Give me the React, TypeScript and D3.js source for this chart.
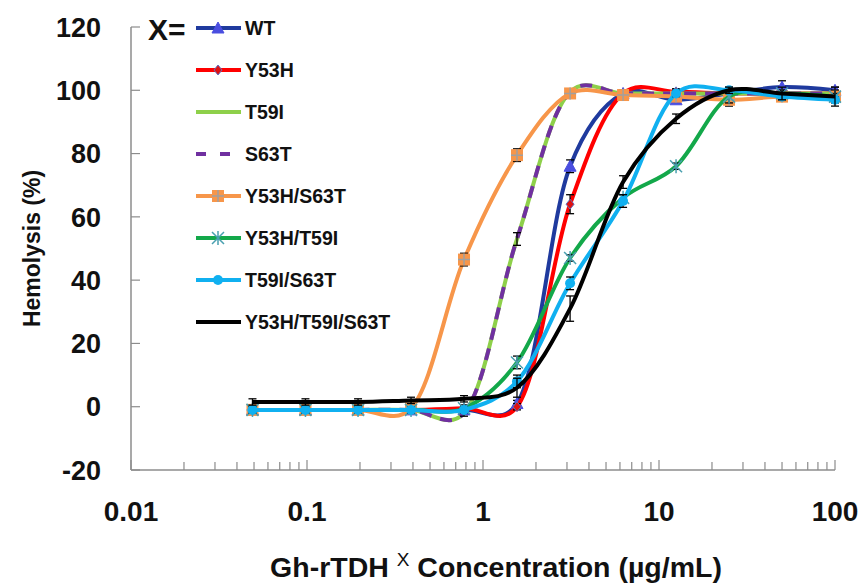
import React from "react";
import * as d3 from "d3";

const conc = [0.049, 0.098, 0.195, 0.39, 0.78, 1.56, 3.125, 6.25, 12.5, 25, 50, 100];
const seriesNames = ["WT", "Y53H", "T59I", "S63T", "Y53H/S63T", "Y53H/T59I", "T59I/S63T", "Y53H/T59I/S63T"];
const wt = [-1, -1, -1, -1, -1, 1, 76, 99, 97, 99, 101, 100];
const y53h = [-1, -1, -1, -1, -0.5, 0, 64, 99, 99.5, 99, 99, 99];
const t59i = [-1, -1, -1, -1, -2, 53, 99.5, 99, 99, 99, 99, 99];
const s63t = [-1, -1, -1, -1, -2, 53, 99.5, 99, 99, 99, 99, 99];
const y53hS63t = [-1, -1, -1, -0.5, 46.5, 79.5, 99, 98.5, 98, 97, 98, 98];
const y53hT59i = [-1, -1, -1, -1, -0.5, 14, 47, 66, 76, 98, 99, 98];
const t59iS63t = [-1, -1, -1, -1, -1, 8, 39, 65, 99, 100, 98, 97];
const triple = [1.5, 1.5, 1.5, 2, 2.5, 6, 31, 71, 91, 100, 99, 98];
const wtErr = [1, 1, 1, 1, 1, 1, 2, 1, 1, 1, 2, 1];
const y53hErr = [1, 1, 1, 1, 1, 1, 3, 1, 1, 1, 1, 1];
const t59iErr = [0, 0, 0, 0, 0, 0, 0, 0, 0, 0, 0, 0];
const s63tErr = [1, 1, 1, 1, 1, 2, 1, 1, 1, 1, 1, 1];
const y53hS63tErr = [1, 1, 1, 1, 2, 2, 1, 1, 1, 2, 1, 1];
const y53hT59iErr = [1, 1, 1, 1, 1, 2, 1, 1, 1, 2, 1, 1];
const t59iS63tErr = [1, 1, 1, 1, 1, 2, 2, 2, 1, 1, 1, 1];
const tripleErr = [1, 1, 1, 1, 1, 3, 4, 2, 1.5, 1, 2, 3];
const yTicks = [-20, 0, 20, 40, 60, 80, 100, 120];
const xTicks = [0.01, 0.1, 1, 10, 100];
const xTickLabels = ["0.01", "0.1", "1", "10", "100"];

const colors = ["#1f3a9e", "#ff0000", "#8ed04a", "#7030a0", "#f7964a", "#13a84a", "#10b0f0", "#000000"];
const values = [wt, y53h, t59i, s63t, y53hS63t, y53hT59i, t59iS63t, triple];
const errs = [wtErr, y53hErr, t59iErr, s63tErr, y53hS63tErr, y53hT59iErr, t59iS63tErr, tripleErr];
const markers = ["triangle", "diamond", "none", "none", "square", "asterisk", "circle", "none"];

const FONT = "'Liberation Sans', Arial, sans-serif";

function Marker({ type, x, y }: { type: string; x: number; y: number }) {
  if (type === "triangle") {
    return <path d={`M${x},${y - 6} L${x + 6},${y + 5} L${x - 6},${y + 5} Z`} fill="#4a4ee0" stroke="#4a4ee0" />;
  }
  if (type === "diamond") {
    return <path d={`M${x},${y - 5} L${x + 4},${y} L${x},${y + 5} L${x - 4},${y} Z`} fill="#e01010" stroke="#6070c0" strokeWidth={1} />;
  }
  if (type === "square") {
    return (
      <g>
        <rect x={x - 6} y={y - 6} width={12} height={12} fill="#f7964a" />
        <path d={`M${x - 6},${y} H${x + 6} M${x},${y - 6} V${y + 6}`} stroke="#a0a0a0" strokeWidth={1.5} />
      </g>
    );
  }
  if (type === "asterisk") {
    return (
      <path
        d={`M${x - 6},${y - 6} L${x + 6},${y + 6} M${x - 6},${y + 6} L${x + 6},${y - 6} M${x},${y - 7} V${y + 7}`}
        stroke="#4aa0b0"
        strokeWidth={1.5}
      />
    );
  }
  if (type === "circle") {
    return <circle cx={x} cy={y} r={5} fill="#10b0f0" />;
  }
  return null;
}

export default function App() {
  const W = 864;
  const H = 584;
  const x = d3.scaleLog().domain([0.01, 100]).range([131, 835]);
  const y = d3.scaleLinear().domain([-20, 120]).range([470, 27]);
  const line = d3
    .line<number>()
    .x((_, i) => x(conc[i]))
    .y((v) => y(v))
    .curve(d3.curveCatmullRom.alpha(0.25));

  const minorTicks: number[] = [];
  for (let e = -2; e < 2; e++) {
    for (let k = 2; k <= 9; k++) minorTicks.push(k * Math.pow(10, e));
  }

  const legendY0 = 28;
  const legendStep = 42;

  return (
    <svg width={W} height={H} style={{ position: "absolute", left: 0, top: 0, background: "#fff" }} fontFamily={FONT}>
      {/* axes */}
      <line x1={131} x2={131} y1={y(120)} y2={y(-20)} stroke="#8c8c8c" strokeWidth={1.5} />
      <line x1={131} x2={835} y1={y(-20)} y2={y(-20)} stroke="#8c8c8c" strokeWidth={1.5} />
      {yTicks.map((t) => (
        <g key={"yt" + t}>
          <line x1={131} x2={140} y1={y(t)} y2={y(t)} stroke="#8c8c8c" strokeWidth={1.2} />
          <text x={101} y={y(t)} dy="0.36em" textAnchor="end" fontSize={27} fontWeight="bold" fill="#111">
            {t}
          </text>
        </g>
      ))}
      {minorTicks.map((t, i) => (
        <line key={"mt" + i} x1={x(t)} x2={x(t)} y1={y(-20)} y2={y(-20) - 8} stroke="#8c8c8c" strokeWidth={1.2} />
      ))}
      {xTicks.map((t, i) => (
        <g key={"xt" + t}>
          <line x1={x(t)} x2={x(t)} y1={y(-20)} y2={y(-20) - 10} stroke="#8c8c8c" strokeWidth={1.2} />
          <text x={x(t)} y={521} textAnchor="middle" fontSize={28} fontWeight="bold" fill="#111">
            {xTickLabels[i]}
          </text>
        </g>
      ))}
      <text
        transform={`translate(40,${y(50)}) rotate(-90)`}
        textAnchor="middle"
        fontSize={23}
        fontWeight="bold"
        fill="#111"
      >
        Hemolysis (%)
      </text>
      <text x={496} y={577} textAnchor="middle" fontSize={28.5} fontWeight="bold" fill="#111">
        Gh-rTDH <tspan dy={-11} fontSize={19} fontWeight="normal">X</tspan>
        <tspan dy={11}>{"  Concentration (µg/mL)"}</tspan>
      </text>

      {/* series */}
      {values.map((vals, si) => (
        <g key={"s" + si}>
          <path
            d={line(vals) || ""}
            fill="none"
            stroke={colors[si]}
            strokeWidth={4}
            strokeDasharray={si === 3 ? "12,9" : undefined}
          />
          {vals.map((v, i) =>
            errs[si][i] > 0 ? (
              <g key={"e" + i} stroke="#000" strokeWidth={1.3}>
                <line x1={x(conc[i])} x2={x(conc[i])} y1={y(v + errs[si][i])} y2={y(v - errs[si][i])} />
                <line x1={x(conc[i]) - 4} x2={x(conc[i]) + 4} y1={y(v + errs[si][i])} y2={y(v + errs[si][i])} />
                <line x1={x(conc[i]) - 4} x2={x(conc[i]) + 4} y1={y(v - errs[si][i])} y2={y(v - errs[si][i])} />
              </g>
            ) : null
          )}
          {vals.map((v, i) => (
            <Marker key={"m" + i} type={markers[si]} x={x(conc[i])} y={y(v)} />
          ))}
        </g>
      ))}

      {/* legend */}
      <text x={148} y={legendY0 + 12} fontSize={30} fontWeight="bold" fill="#111">
        X=
      </text>
      {seriesNames.map((name, i) => {
        const ly = legendY0 + i * legendStep;
        return (
          <g key={"lg" + i}>
            <line
              x1={196}
              x2={241}
              y1={ly}
              y2={ly}
              stroke={colors[i]}
              strokeWidth={4}
              strokeDasharray={i === 3 ? "10,14" : undefined}
            />
            <Marker type={markers[i]} x={218} y={ly} />
            <text x={245} y={ly} dy="0.36em" fontSize={19.5} fontWeight="bold" fill="#111">
              {name}
            </text>
          </g>
        );
      })}
    </svg>
  );
}
